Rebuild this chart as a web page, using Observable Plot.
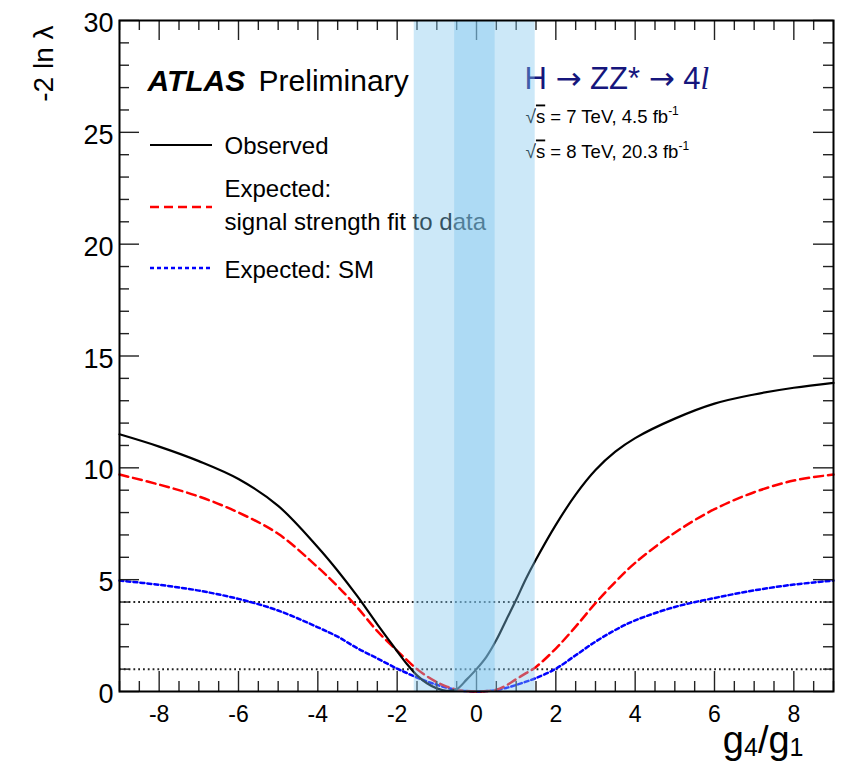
<!DOCTYPE html>
<html>
<head>
<meta charset="utf-8">
<script src="https://cdn.jsdelivr.net/npm/d3@7"></script>
<script src="https://cdn.jsdelivr.net/npm/@observablehq/plot@0.6"></script>
<style>
  html, body { margin: 0; padding: 0; background: #fff; }
</style>
</head>
<body>
<div id="chart"></div>
<script>
// Scan points in g4/g1 and the three -2 ln λ profiles
const gRatio = [-9, -8, -7, -6, -5, -4, -3.5, -3, -2.5, -2, -1.75, -1.5, -1.25, -1, -0.75, -0.5, -0.25,
  0, 0.25, 0.5, 0.75, 1, 1.25, 1.5, 2, 2.5, 3, 3.5, 4, 5, 6, 7, 8, 9];
const observed = [11.5, 10.95, 10.3, 9.5, 8.3, 6.45, 5.4, 4.25, 3.0, 1.8, 1.22, 0.72, 0.37, 0.14, 0.03, 0.1, 0.53,
  1.0, 1.55, 2.3, 3.2, 4.1, 5.05, 5.9, 7.45, 8.8, 9.9, 10.72, 11.33, 12.2, 12.87, 13.28, 13.58, 13.8];
const expectedFit = [9.7, 9.25, 8.72, 8.0, 7.05, 5.55, 4.7, 3.75, 2.7, 1.82, 1.4, 1.0, 0.68, 0.42, 0.22, 0.09, 0.02,
  0, 0.02, 0.08, 0.27, 0.55, 0.82, 1.1, 1.92, 2.9, 3.95, 4.9, 5.75, 7.1, 8.15, 8.91, 9.43, 9.7];
const expectedSM = [4.96, 4.77, 4.51, 4.14, 3.62, 2.87, 2.45, 1.93, 1.48, 1.02, 0.82, 0.62, 0.45, 0.3, 0.17, 0.07, 0.02,
  0, 0.02, 0.07, 0.16, 0.29, 0.44, 0.6, 1.02, 1.62, 2.23, 2.75, 3.18, 3.78, 4.18, 4.52, 4.78, 4.96];

// Excluded-region bands (outer and inner interval)
const bandOuter = [-1.57, 1.48];
const bandInner = [-0.55, 0.47];

// Reference levels drawn as dotted lines
const thresholds = [1, 4];

// Axis ticks
const xTickLabels = [-8, -6, -4, -2, 0, 2, 4, 6, 8];
const yTickLabels = [0, 5, 10, 15, 20, 25, 30];
const xMinorTicks = d3.range(-9, 9.001, 0.5).filter(v => Math.abs(v % 2) > 1e-9);
const yMinorTicks = d3.range(0, 30.001, 1).filter(v => v % 5 !== 0);

const xDomain = [-9, 9], yDomain = [0, 30];
const W = 848, H = 768, mL = 119, mR = 15, mT = 20, mB = 77;
const frameW = W - mL - mR, frameH = H - mT - mB;
const majorLen = 20, minorLen = 10;

const rows = gRatio.map((g, i) => ({g, observed: observed[i], fit: expectedFit[i], sm: expectedSM[i]}));

const tickStyle = {stroke: "#222", strokeWidth: 1.4};
const label = (s, o) => Plot.text([s], {text: d => d, frameAnchor: "top-left", textAnchor: "start", lineAnchor: "bottom", fill: "black", ...o});

const chart = Plot.plot({
  width: W, height: H,
  marginLeft: mL, marginRight: mR, marginTop: mT, marginBottom: mB,
  style: {fontFamily: "'Liberation Sans', Arimo, Arial, sans-serif", background: "white", color: "black"},
  x: {domain: xDomain},
  y: {domain: yDomain},
  marks: [
    // dotted reference levels
    Plot.ruleY(thresholds, {y: d => d, stroke: "#222", strokeWidth: 2, strokeDasharray: "1.8,3"}),
    // curves
    Plot.line(rows, {x: "g", y: "sm", stroke: "#0000ff", strokeWidth: 2.5, strokeDasharray: "4,3", curve: "catmull-rom"}),
    Plot.line(rows, {x: "g", y: "fit", stroke: "#ff0000", strokeWidth: 2.5, strokeDasharray: "9,5", curve: "catmull-rom"}),
    Plot.line(rows, {x: "g", y: "observed", stroke: "black", strokeWidth: 2.2, curve: "catmull-rom"}),
    // labels inside the frame
    label("ATLAS Preliminary", {dx: 28, dy: 70, fontSize: 30}),
    label("H → ZZ* → 4l", {dx: 405, dy: 68, fontSize: 31, fill: "#16167c"}),
    label("√s = 7 TeV, 4.5 fb-1", {dx: 406, dy: 102, fontSize: 18.5}),
    label("√s = 8 TeV, 20.3 fb-1", {dx: 406, dy: 137, fontSize: 18.5}),
    label("Observed", {dx: 105, dy: 133, fontSize: 24}),
    label("Expected:", {dx: 105, dy: 176, fontSize: 24}),
    label("signal strength fit to data", {dx: 105, dy: 209, fontSize: 24}),
    label("Expected: SM", {dx: 105, dy: 257, fontSize: 24}),
    // axis titles
    Plot.text(["-2 ln λ"], {text: d => d, frameAnchor: "top-left", rotate: -90, textAnchor: "end", lineAnchor: "middle", dx: -75, dy: 5, fontSize: 28, fill: "black"}),
    Plot.text(["g4/g1"], {text: d => d, frameAnchor: "bottom-right", textAnchor: "end", lineAnchor: "bottom", dx: -30, dy: 61, fontSize: 38, fill: "black"}),
    // inward ticks on all four sides
    Plot.ruleX(xTickLabels, {x: d => d, insetTop: frameH - majorLen, ...tickStyle}),
    Plot.ruleX(xTickLabels, {x: d => d, insetBottom: frameH - majorLen, ...tickStyle}),
    Plot.ruleX(xMinorTicks, {x: d => d, insetTop: frameH - minorLen, ...tickStyle}),
    Plot.ruleX(xMinorTicks, {x: d => d, insetBottom: frameH - minorLen, ...tickStyle}),
    Plot.ruleY(yTickLabels, {y: d => d, insetRight: frameW - majorLen, ...tickStyle}),
    Plot.ruleY(yTickLabels, {y: d => d, insetLeft: frameW - majorLen, ...tickStyle}),
    Plot.ruleY(yMinorTicks, {y: d => d, insetRight: frameW - minorLen, ...tickStyle}),
    Plot.ruleY(yMinorTicks, {y: d => d, insetLeft: frameW - minorLen, ...tickStyle}),
    // tick labels
    Plot.axisX(xTickLabels, {tickSize: 0, tickPadding: 14, fontSize: 23, label: null, tickFormat: d => String(d)}),
    Plot.axisY(yTickLabels, {tickSize: 0, tickPadding: 6, fontSize: 27, label: null, dy: 3, tickFormat: d => String(d)}),
    // shaded intervals, translucent over the curves
    Plot.rect([bandOuter, bandInner], {x1: d => d[0], x2: d => d[1], y1: () => yDomain[0], y2: () => yDomain[1], fill: "#80c6ee", fillOpacity: 0.4}),
    Plot.frame({stroke: "black", strokeWidth: 2})
  ]
});

document.getElementById("chart").appendChild(chart);

// Rich text: bold-italic ATLAS, italic l, root sign, superscripts, subscripts
const svg = d3.select(chart);
function rich(content, build) {
  svg.selectAll("text").filter(function () { return this.textContent === content; }).each(function () {
    const t = d3.select(this);
    t.text(null);
    build(t);
  });
}
rich("ATLAS Preliminary", t => {
  t.append("tspan").attr("font-weight", "bold").attr("font-style", "italic").text("ATLAS");
  t.append("tspan").attr("dx", 5).text(" Preliminary");
});
rich("H → ZZ* → 4l", t => {
  const arrow = () => t.append("tspan").attr("font-family", "'DejaVu Sans', sans-serif").text("→");
  t.append("tspan").text("H ");
  arrow();
  t.append("tspan").text(" ZZ* ");
  arrow();
  t.append("tspan").text(" 4");
  t.append("tspan").attr("font-family", "'Liberation Serif', serif").attr("font-style", "italic").text("l");
});
for (const [s, rest] of [["√s = 7 TeV, 4.5 fb-1", " = 7 TeV, 4.5 fb"], ["√s = 8 TeV, 20.3 fb-1", " = 8 TeV, 20.3 fb"]]) {
  rich(s, t => {
    t.append("tspan").attr("font-size", 19).text("√");
    t.append("tspan").attr("text-decoration", "overline").text("s");
    t.append("tspan").text(rest);
    t.append("tspan").attr("font-size", 12).attr("dy", -8).text("-1");
  });
}
rich("g4/g1", t => {
  t.append("tspan").text("g");
  t.append("tspan").attr("font-size", 25).attr("dy", 3).text("4");
  t.append("tspan").attr("dy", -3).text("/g");
  t.append("tspan").attr("font-size", 25).attr("dy", 3).text("1");
});

// Legend swatches
const legend = svg.append("g");
const swatches = [
  {y: 145, stroke: "black", width: 2.2, dash: null},
  {y: 207, stroke: "#ff0000", width: 2.5, dash: "9,5"},
  {y: 268, stroke: "#0000ff", width: 2.5, dash: "4,3"}
];
for (const s of swatches) {
  legend.append("line")
    .attr("x1", 150).attr("x2", 212).attr("y1", s.y).attr("y2", s.y)
    .attr("stroke", s.stroke).attr("stroke-width", s.width)
    .attr("stroke-dasharray", s.dash);
}
</script>
</body>
</html>
